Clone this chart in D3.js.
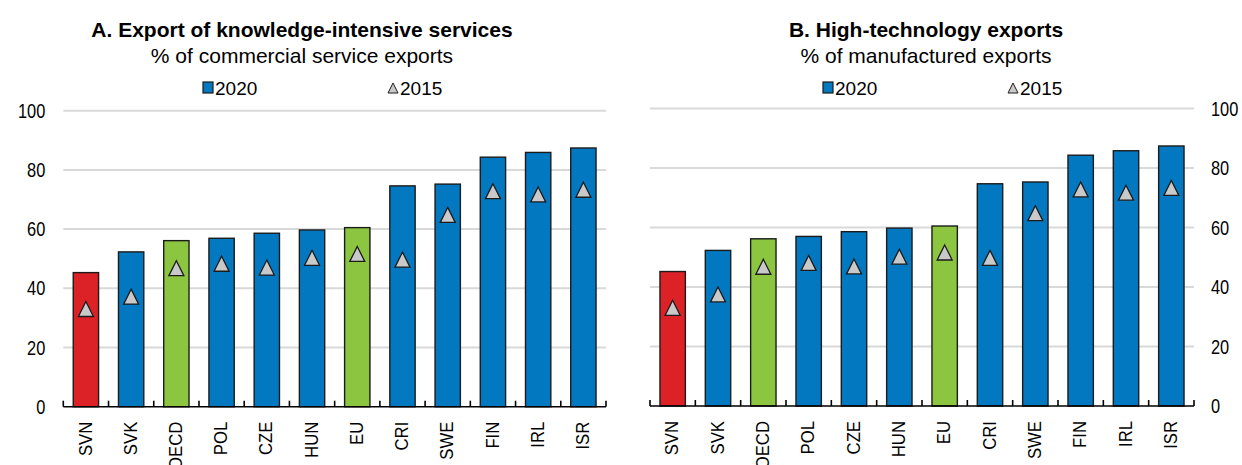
<!DOCTYPE html>
<html>
<head>
<meta charset="utf-8">
<script src="https://cdn.jsdelivr.net/npm/d3@7"></script>
<style>
  body { margin: 0; background: #fff; }
  svg { display: block; }
  text { font-family: "Liberation Sans Narrow", "Arial Narrow", "Liberation Sans", Arial, sans-serif; fill: #000; }
</style>
</head>
<body>
<svg id="chart" width="1242" height="465"></svg>
<script>
// ---- Data ----
const categories = ["SVN", "SVK", "OECD", "POL", "CZE", "HUN", "EU", "CRI", "SWE", "FIN", "IRL", "ISR"];
const knowledge2020 = [45.3, 52.3, 56.1, 56.9, 58.6, 59.7, 60.5, 74.6, 75.2, 84.3, 85.9, 87.4];
const knowledge2015 = [33.0, 37.2, 46.8, 48.3, 47.0, 50.3, 51.6, 49.7, 64.8, 72.8, 71.7, 73.3];
const hightech2020 = [45.2, 52.3, 56.2, 57.0, 58.6, 59.8, 60.5, 74.7, 75.3, 84.3, 85.8, 87.4];
const hightech2015 = [33.0, 37.5, 46.8, 48.1, 46.9, 50.2, 51.6, 49.8, 64.8, 72.8, 71.7, 73.3];
const yTicks = [0, 20, 40, 60, 80, 100];
const seriesNames = ["2020", "2015"];
const highlightRed = ["SVN"];
const highlightGreen = ["OECD", "EU"];

const BLUE = "#0278C1", RED = "#DC2127", GREEN = "#8CC640", TRI = "#C9C9C9";

const svg = d3.select("#chart");

function panel(opts) {
  const g = svg.append("g");
  const x = d3.scaleBand().domain(categories).range([opts.x0, opts.x1]).padding(0);
  const y = d3.scaleLinear().domain([0, 100]).range([opts.yb, opts.yt]);
  const barW = x.bandwidth() * 0.56;

  // gridlines
  g.selectAll("line.grid").data(yTicks.filter(d => d > 0)).enter().append("line")
    .attr("x1", opts.x0).attr("x2", opts.x1)
    .attr("y1", d => y(d)).attr("y2", d => y(d))
    .attr("stroke", "#d9d9d9").attr("stroke-width", 2);

  // y tick labels
  const tx0 = opts.side === "left" ? opts.x0 - 18 : opts.x1 + 17;
  g.selectAll("text.ytick").data(yTicks).enter().append("text")
    .attr("transform", d => `translate(${tx0},${y(d)}) scale(0.82,1)`)
    .attr("dy", "0.35em")
    .attr("text-anchor", opts.side === "left" ? "end" : "start")
    .style("font-size", "20px")
    .text(d => d);

  // bars
  g.selectAll("rect.bar").data(categories).enter().append("rect")
    .attr("x", d => x(d) + (x.bandwidth() - barW) / 2)
    .attr("y", (d, i) => y(opts.v2020[i]))
    .attr("width", barW)
    .attr("height", (d, i) => y(0) - y(opts.v2020[i]))
    .attr("fill", d => highlightRed.includes(d) ? RED : highlightGreen.includes(d) ? GREEN : BLUE)
    .attr("stroke", "#1b1b1b").attr("stroke-width", 1.4);

  // triangles
  const s = 15;
  g.selectAll("path.tri").data(categories).enter().append("path")
    .attr("d", (d, i) => {
      const cx = x(d) + x.bandwidth() / 2, cy = y(opts.v2015[i]);
      return `M${cx},${cy - s / 2}L${cx + s / 2},${cy + s / 2}L${cx - s / 2},${cy + s / 2}Z`;
    })
    .attr("fill", TRI).attr("stroke", "#1b1b1b").attr("stroke-width", 1.3);

  // x axis
  const axis = g.append("g").attr("transform", `translate(0,${y(0)})`);
  axis.append("line").attr("x1", opts.x0).attr("x2", opts.x1).attr("stroke", "#000").attr("stroke-width", 1.6);
  const bounds = categories.map(c => x(c)).concat([opts.x1]);
  axis.selectAll("line.tk").data(bounds).enter().append("line")
    .attr("x1", d => d).attr("x2", d => d).attr("y1", 0).attr("y2", -6)
    .attr("stroke", "#000").attr("stroke-width", 1.6);
  axis.selectAll("text.cat").data(categories).enter().append("text")
    .attr("transform", d => `translate(${x(d) + x.bandwidth() / 2 - 1},15) rotate(-90) scale(0.88,1)`)
    .attr("dy", "0.35em")
    .attr("text-anchor", "end")
    .style("font-size", "19px")
    .text(d => d);

  // titles
  svg.append("text").attr("x", opts.cx).attr("y", 37).attr("text-anchor", "middle")
    .style("font-size", "21px").style("font-weight", "bold").text(opts.title);
  svg.append("text").attr("x", opts.cx).attr("y", 63).attr("text-anchor", "middle")
    .style("font-size", "21px").text(opts.subtitle);

  // legend
  const lg = svg.append("g");
  lg.append("rect").attr("x", opts.lx).attr("y", 82).attr("width", 10).attr("height", 11)
    .attr("fill", BLUE).attr("stroke", "#1b1b1b").attr("stroke-width", 1.2);
  lg.append("text").attr("x", opts.lx + 12).attr("y", 95).style("font-size", "19px").text(seriesNames[0]);
  const tx = opts.lx + 190;
  lg.append("path").attr("d", `M${tx},${83}L${tx + 5},${93}L${tx - 5},${93}Z`)
    .attr("fill", TRI).attr("stroke", "#1b1b1b").attr("stroke-width", 1);
  lg.append("text").attr("x", tx + 7).attr("y", 95).style("font-size", "19px").text(seriesNames[1]);
}

panel({ x0: 63.3, x1: 606, yt: 110.7, yb: 406.7, side: "left",
  v2020: knowledge2020, v2015: knowledge2015, cx: 302, lx: 203,
  title: "A. Export of knowledge-intensive services", subtitle: "% of commercial service exports" });
panel({ x0: 650, x1: 1194, yt: 108.5, yb: 406, side: "right",
  v2020: hightech2020, v2015: hightech2015, cx: 926, lx: 823,
  title: "B. High-technology exports", subtitle: "% of manufactured exports" });
</script>
</body>
</html>
